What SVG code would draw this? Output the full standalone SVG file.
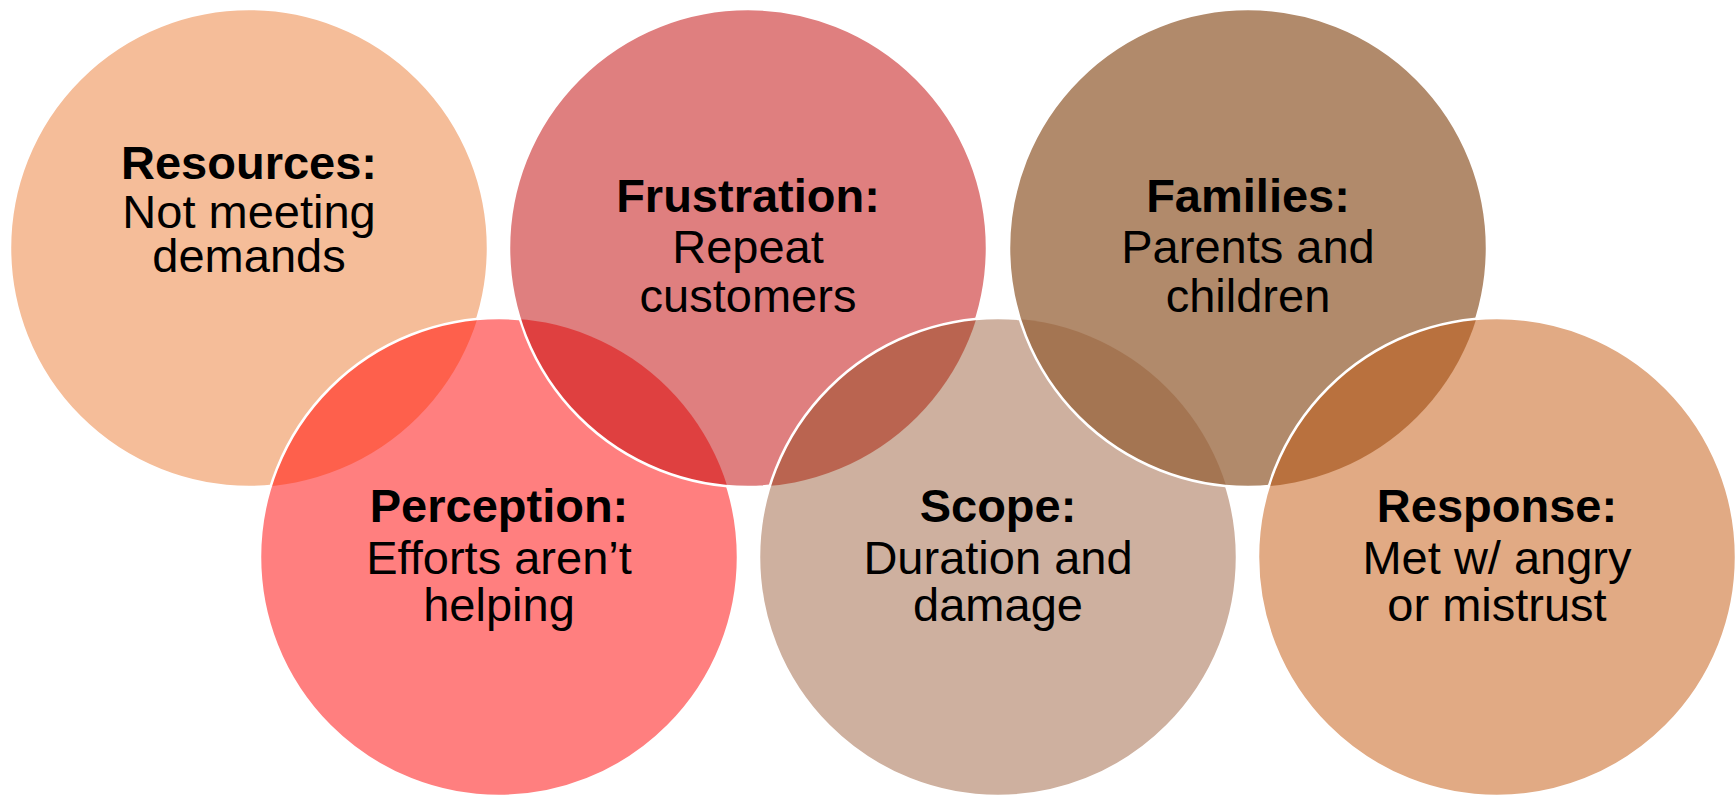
<svg xmlns="http://www.w3.org/2000/svg" width="1736" height="795" viewBox="0 0 1736 795">
<style>
  .t{font-family:"Liberation Sans",Arial,sans-serif;font-size:47px;fill:#000;text-anchor:middle}
  .b{font-weight:bold}
  .edge{fill:none;stroke:#fff;stroke-width:2.5}
</style>
<defs>
  <clipPath id="cRes"><circle cx="249" cy="248" r="239"/></clipPath>
  <clipPath id="cPer"><circle cx="499" cy="557" r="239"/></clipPath>
  <clipPath id="cFru"><circle cx="748" cy="248" r="239"/></clipPath>
  <clipPath id="cSco"><circle cx="998" cy="557" r="239"/></clipPath>
  <clipPath id="cFam"><circle cx="1248" cy="248" r="239"/></clipPath>
</defs>
<rect width="1736" height="795" fill="#fff"/>

<g id="resources">
  <circle cx="249" cy="248" r="239" fill="#F5BD99"/>
  <circle class="edge" cx="249" cy="248" r="239"/>
  <text class="t b" x="249" y="179">Resources:</text>
  <text class="t" x="249" y="228">Not meeting</text>
  <text class="t" x="249" y="272">demands</text>
</g>

<g id="perception">
  <circle cx="499" cy="557" r="239" fill="#FF7F7F"/>
  <circle cx="499" cy="557" r="239" fill="#FE604C" clip-path="url(#cRes)"/>
  <circle class="edge" cx="499" cy="557" r="239"/>
  <text class="t b" x="499" y="522">Perception:</text>
  <text class="t" x="499" y="574">Efforts aren’t</text>
  <text class="t" x="499" y="621">helping</text>
</g>

<g id="frustration">
  <circle cx="748" cy="248" r="239" fill="#DF7F7F"/>
  <circle cx="748" cy="248" r="239" fill="#DF4040" clip-path="url(#cPer)"/>
  <circle class="edge" cx="748" cy="248" r="239"/>
  <text class="t b" x="748" y="212">Frustration:</text>
  <text class="t" x="748" y="263">Repeat</text>
  <text class="t" x="748" y="312">customers</text>
</g>

<g id="scope">
  <circle cx="998" cy="557" r="239" fill="#CEB09F"/>
  <circle cx="998" cy="557" r="239" fill="#BA6450" clip-path="url(#cFru)"/>
  <circle class="edge" cx="998" cy="557" r="239"/>
  <text class="t b" x="998" y="522">Scope:</text>
  <text class="t" x="998" y="574">Duration and</text>
  <text class="t" x="998" y="621">damage</text>
</g>

<g id="families">
  <circle cx="1248" cy="248" r="239" fill="#B18A6B"/>
  <circle cx="1248" cy="248" r="239" fill="#A47552" clip-path="url(#cSco)"/>
  <circle class="edge" cx="1248" cy="248" r="239"/>
  <text class="t b" x="1248" y="212">Families:</text>
  <text class="t" x="1248" y="263">Parents and</text>
  <text class="t" x="1248" y="312">children</text>
</g>

<g id="response">
  <circle cx="1497" cy="557" r="239" fill="#E1AA84"/>
  <circle cx="1497" cy="557" r="239" fill="#B9713E" clip-path="url(#cFam)"/>
  <circle class="edge" cx="1497" cy="557" r="239"/>
  <text class="t b" x="1497" y="522">Response:</text>
  <text class="t" x="1497" y="574">Met w/ angry</text>
  <text class="t" x="1497" y="621">or mistrust</text>
</g>

<g id="connectors"></g>
</svg>
